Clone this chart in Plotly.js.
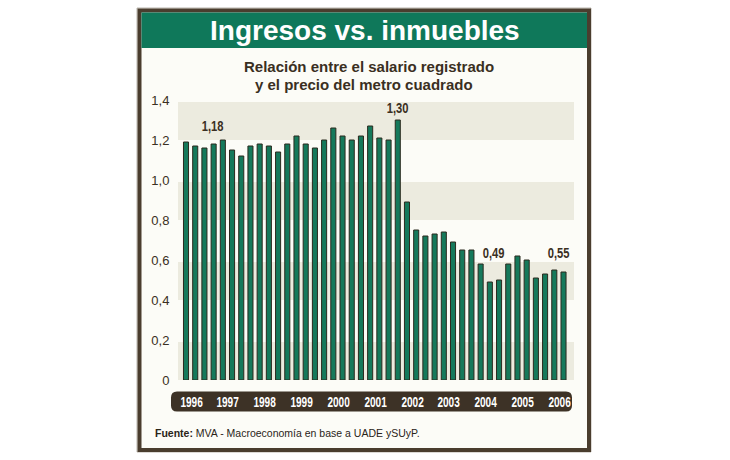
<!DOCTYPE html>
<html>
<head>
<meta charset="utf-8">
<script src="https://cdn.plot.ly/plotly-3.0.1.min.js"></script>
<style>
  html, body { margin: 0; padding: 0; background: #ffffff; }
  #chart { width: 730px; height: 460px; }
</style>
</head>
<body>
<div id="chart"></div>
<script>
// Quarterly ratio: registered salary vs. price per square metre (1996 Q1 – 2006 Q2)
const quarters = [
  '1996-T1','1996-T2','1996-T3','1996-T4',
  '1997-T1','1997-T2','1997-T3','1997-T4',
  '1998-T1','1998-T2','1998-T3','1998-T4',
  '1999-T1','1999-T2','1999-T3','1999-T4',
  '2000-T1','2000-T2','2000-T3','2000-T4',
  '2001-T1','2001-T2','2001-T3','2001-T4',
  '2002-T1','2002-T2','2002-T3','2002-T4',
  '2003-T1','2003-T2','2003-T3','2003-T4',
  '2004-T1','2004-T2','2004-T3','2004-T4',
  '2005-T1','2005-T2','2005-T3','2005-T4',
  '2006-T1','2006-T2'
];
const ratio = [
  1.19, 1.17, 1.16, 1.18,
  1.20, 1.15, 1.12, 1.17,
  1.18, 1.17, 1.14, 1.18,
  1.22, 1.18, 1.16, 1.20,
  1.26, 1.22, 1.20, 1.22,
  1.27, 1.21, 1.20, 1.30,
  0.89, 0.75, 0.72, 0.73,
  0.74, 0.69, 0.65, 0.65,
  0.58, 0.49, 0.50, 0.58,
  0.62, 0.60, 0.51, 0.53,
  0.55, 0.54
];
// Quarters whose value is printed above the bar
const labelled = [3, 23, 33, 40];
const yearLabels = ['1996','1997','1998','1999','2000','2001','2002','2003','2004','2005','2006'];
const yTickVals = [0, 0.2, 0.4, 0.6, 0.8, 1.0, 1.2, 1.4];
const yTickText = ['0', '0,2', '0,4', '0,6', '0,8', '1,0', '1,2', '1,4'];

// Plot area geometry (pixels) used to place the decorative frame
const W = 730, H = 460;
const PL = 178, PR = 574, PT = 100, PB = 380;
const px = v => (v - PL) / (PR - PL);
const py = v => (PB - v) / (PB - PT);

const ink = '#3a2f22';
const frame = '#4a3d2e';
const green = '#0f785a';
const sans = "'Liberation Sans', Arial, sans-serif";

const idx = quarters.map((q, i) => i);

const trace = {
  type: 'bar',
  x: idx,
  y: ratio,
  width: 0.55,
  marker: { color: '#15795b', line: { color: '#2b2a1e', width: 1 } },
  hovertext: quarters,
  hoverinfo: 'text+y'
};

function rect(x0, y0, x1, y1, fill, line, layer) {
  return {
    type: 'rect', xref: 'paper', yref: 'paper',
    x0: px(x0), x1: px(x1), y0: py(y1), y1: py(y0),
    fillcolor: fill, line: line || { width: 0 }, layer: layer || 'below'
  };
}

function roundRect(x0, y0, x1, y1, r, fill) {
  const X = v => px(v).toFixed(5), Y = v => py(v).toFixed(5);
  const d = `M${X(x0 + r)},${Y(y0)} L${X(x1 - r)},${Y(y0)} Q${X(x1)},${Y(y0)} ${X(x1)},${Y(y0 + r)} ` +
            `L${X(x1)},${Y(y1 - r)} Q${X(x1)},${Y(y1)} ${X(x1 - r)},${Y(y1)} ` +
            `L${X(x0 + r)},${Y(y1)} Q${X(x0)},${Y(y1)} ${X(x0)},${Y(y1 - r)} ` +
            `L${X(x0)},${Y(y0 + r)} Q${X(x0)},${Y(y0)} ${X(x0 + r)},${Y(y0)} Z`;
  return { type: 'path', xref: 'paper', yref: 'paper', path: d, fillcolor: fill, line: { width: 0 }, layer: 'below' };
}

const shapes = [];
// outer box and heading strip
shapes.push(rect(137, 8, 591, 452, '#fcfcf7', { color: '#b9b4ac', width: 1 }));
shapes.push(rect(139.5, 10.5, 589, 450, 'rgba(0,0,0,0)', { color: frame, width: 4 }));
shapes.push(rect(141.5, 12.5, 587, 48, green));
// alternating bands behind the bars
for (let k = 0; k < 4; k++) {
  shapes.push({
    type: 'rect', xref: 'paper', yref: 'y',
    x0: 0, x1: 1, y0: 0.4 * k, y1: 0.4 * k + 0.19,
    fillcolor: '#ecebdf', line: { width: 0 }, layer: 'below'
  });
}
// year strip under the axis
shapes.push(roundRect(171, 391.5, 572, 411.5, 6, '#3d3226'));

const annotations = [];
annotations.push({
  xref: 'paper', yref: 'paper', x: px(365), y: py(30), xanchor: 'center', yanchor: 'middle',
  text: '<b>Ingresos vs. inmuebles</b>', showarrow: false,
  font: { family: sans, size: 28, color: '#ffffff' }
});
annotations.push({
  xref: 'paper', yref: 'paper', x: px(369), y: py(66), xanchor: 'center', yanchor: 'middle',
  text: '<b>Relación entre el salario registrado</b>', showarrow: false,
  font: { family: sans, size: 15, color: ink }
});
annotations.push({
  xref: 'paper', yref: 'paper', x: px(364), y: py(85), xanchor: 'center', yanchor: 'middle',
  text: '<b>y el precio del metro cuadrado</b>', showarrow: false,
  font: { family: sans, size: 15, color: ink }
});
// year labels inside the dark strip
yearLabels.forEach((yr, k) => {
  annotations.push({
    xref: 'x', yref: 'paper', x: 4 * k + 0.55, y: py(401.5), xanchor: 'center', yanchor: 'middle',
    text: '<b>' + yr + '</b>', showarrow: false,
    font: { family: sans, size: 14, color: '#ffffff' }
  });
});
// value callouts
const shifts = { 3: [-1.5, 8], 23: [0, 2], 33: [3.7, 19], 40: [3.7, 7] };
labelled.forEach(i => {
  annotations.push({
    xref: 'x', yref: 'y', x: idx[i], y: ratio[i], xanchor: 'center', yanchor: 'bottom',
    xshift: shifts[i][0], yshift: shifts[i][1],
    text: '<b>' + ratio[i].toFixed(2).replace('.', ',') + '</b>', showarrow: false,
    font: { family: sans, size: 14, color: ink }
  });
});
annotations.push({
  xref: 'paper', yref: 'paper', x: px(153), y: py(433), xanchor: 'left', yanchor: 'middle',
  text: '<b>Fuente:</b> MVA - Macroeconomía en base a UADE ySUyP.', showarrow: false,
  font: { family: sans, size: 10.5, color: '#2a2418' }
});

const layout = {
  width: W, height: H,
  margin: { l: PL, r: W - PR, t: PT, b: H - PB, pad: 0 },
  paper_bgcolor: '#ffffff',
  plot_bgcolor: 'rgba(0,0,0,0)',
  showlegend: false,
  bargap: 0,
  xaxis: {
    range: [-0.87, 42.14], showgrid: false, zeroline: false, showline: false,
    showticklabels: false, ticks: '', fixedrange: true
  },
  yaxis: {
    range: [0, 1.4], tickvals: yTickVals, ticktext: yTickText,
    showgrid: false, zeroline: false, showline: false,
    ticks: 'outside', ticklen: 5, tickcolor: 'rgba(0,0,0,0)',
    tickfont: { family: sans, size: 13, color: ink }, fixedrange: true
  },
  shapes: shapes,
  annotations: annotations
};

// Condensed look for the year labels and the value callouts:
// squeeze each text horizontally around its own centre.
function condense(gd) {
  gd.querySelectorAll('.annotation-text-g text').forEach(t => {
    const s = t.textContent.trim();
    let k = 0;
    if (/^\d{4}$/.test(s)) k = 0.72;
    else if (/^\d,\d\d$/.test(s)) k = 0.8;
    if (!k) return;
    const b = t.getBBox();
    const cx = b.x + b.width / 2;
    t.setAttribute('transform', `translate(${cx},0) scale(${k},1) translate(${-cx},0)`);
  });
}

Plotly.newPlot('chart', [trace], layout, { displayModeBar: false, staticPlot: true })
  .then(gd => condense(gd));
</script>
</body>
</html>
